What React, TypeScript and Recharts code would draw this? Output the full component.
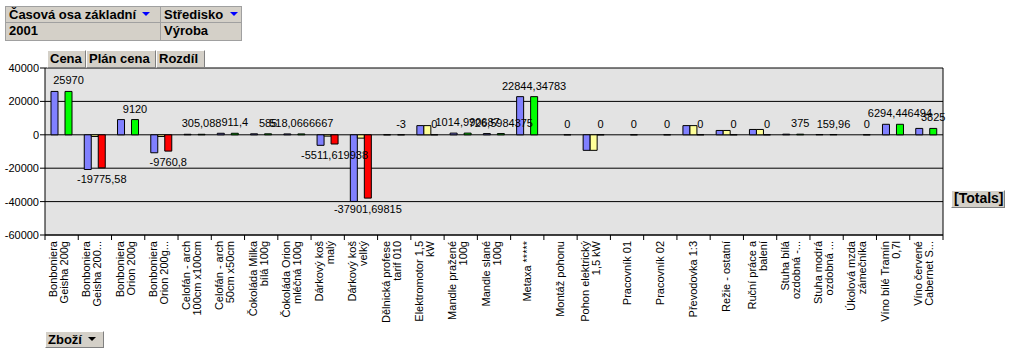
import React from 'react';
import { BarChart, Bar, XAxis, YAxis, CartesianGrid, Cell, LabelList } from 'recharts';

// category labels, already split into the two lines shown under the axis
const labelLine1 = [
  'Bonboniera', 'Bonboniera', 'Bonboniera', 'Bonboniera', 'Celofán - arch', 'Celofán - arch',
  'Čokoláda Milka', 'Čokoláda Orion', 'Dárkový koš', 'Dárkový koš', 'Dělnická profese',
  'Elektromotor 1,5', 'Mandle pražené', 'Mandle slané', 'Metaxa *****', 'Montáž pohonu',
  'Pohon elektrický', 'Pracovník 01', 'Pracovník 02', 'Převodovka 1:3', 'Režie - ostatní',
  'Ruční práce a', 'Stuha bílá', 'Stuha modrá', 'Úkolová mzda', 'Víno bílé Tramín', 'Víno červené',
];
const labelLine2 = [
  'Geisha 200g', 'Geisha 200...', 'Orion 200g', 'Orion 200g...', '100cm x100cm', '50cm x50cm',
  'bílá 100g', 'mléčná 100g', 'malý', 'velký', 'tarif 010',
  'kW', '100g', '100g', '', '',
  '1,5 kW', '', '', '', '',
  'balení', 'ozdobná -...', 'ozdobná ...', 'zámečníka', '0,7l', 'Cabernet S...',
];

const cena = [
  25970, -20775.58, 9120, -10760.8, 305.088, 911.4,
  585, 518.0666667, -6300, -39900, -3,
  5500, 1014.990687, 726.5984375, 22844.34783, 0,
  -9300, 0, 0, 5500, 2600,
  3200, 375, 159.96, 0, 6294.446494, 3825,
];
const planCena = [
  0, -1000, 0, -1000, 0, 0,
  0, 0, -800, -2000, 0,
  5500, 0, 0, 0, 0,
  -9300, 0, 0, 5500, 2600,
  3200, 0, 0, 0, 0, 0,
];
const rozdil = [
  25970, -19775.58, 9120, -9760.8, 305.088, 911.4,
  585, 518.0666667, -5511.619938, -37901.69815, -3,
  0, 1014.990687, 726.5984375, 22844.34783, 0,
  0, 0, 0, 0, 0,
  0, 375, 159.96, 0, 6294.446494, 3825,
];

const yTicks = [-60000, -40000, -20000, 0, 20000, 40000];

const data = labelLine1.map((l1, i) => ({
  name: `${l1} ${labelLine2[i]}`.trim(),
  cena: cena[i],
  plan: planCena[i],
  rozdil: rozdil[i],
}));

const W = 1010;
const H = 353;
const Y_AXIS_W = 45;
const RIGHT_W = 67;
const BAND = (W - Y_AXIS_W - RIGHT_W) / data.length;
const FONT = 'Arial, "Liberation Sans", sans-serif';

const fmt = (v: number) => String(v).replace('.', ',');

const CategoryTick = (props: any) => {
  const { x, y, index } = props;
  const l1 = labelLine1[index];
  const l2 = labelLine2[index];
  const top = y + 6;
  const textProps = { fontSize: 11, fontFamily: FONT, fill: '#000', textAnchor: 'end' as const };
  return (
    <g>
      <line x1={x - BAND / 2} y1={y} x2={x - BAND / 2} y2={y + 5} stroke="#000" />
      {index === data.length - 1 && (
        <line x1={x + BAND / 2} y1={y} x2={x + BAND / 2} y2={y + 5} stroke="#000" />
      )}
      {l2 ? (
        <>
          <text {...textProps} transform={`translate(${x - 4.5},${top}) rotate(-90)`}>{l1}</text>
          <text {...textProps} transform={`translate(${x + 6.5},${top}) rotate(-90)`}>{l2}</text>
        </>
      ) : (
        <text {...textProps} transform={`translate(${x + 3.5},${top}) rotate(-90)`}>{l1}</text>
      )}
    </g>
  );
};

const DiffLabel = (props: any) => {
  const { x, y, width, height, value } = props;
  const top = Math.min(y, y + height);
  const bottom = Math.max(y, y + height);
  const below = value < 0 && Math.abs(height) >= 2;
  return (
    <text
      x={x + width / 2}
      y={below ? bottom + 11 : top - 11}
      textAnchor="middle"
      dominantBaseline="central"
      fontSize={11}
      fontFamily={FONT}
      fill="#000"
    >
      {fmt(value)}
    </text>
  );
};

const cell: React.CSSProperties = {
  position: 'absolute',
  background: '#D4D0C8',
  border: '1px solid #A0A0A0',
  boxSizing: 'border-box',
  font: `bold 13px ${FONT}`,
  color: '#000',
  lineHeight: '15px',
  paddingLeft: 3,
  whiteSpace: 'nowrap',
};

const button: React.CSSProperties = {
  ...cell,
  border: '1px solid #808080',
  borderTopColor: '#FFFFFF',
  borderLeftColor: '#FFFFFF',
  paddingLeft: 2,
};

const Arrow = ({ color, left, top }: { color: string; left: number; top: number }) => (
  <span
    style={{
      position: 'absolute',
      left,
      top,
      width: 0,
      height: 0,
      borderLeft: '4px solid transparent',
      borderRight: '4px solid transparent',
      borderTop: `4px solid ${color}`,
    }}
  />
);

export default function App() {
  return (
    <div style={{ position: 'absolute', left: 0, top: 0, width: W, height: H, background: '#fff' }}>
      <BarChart
        width={W}
        height={H}
        data={data}
        margin={{ top: 68, right: 0, bottom: 18, left: 0 }}
        barCategoryGap={6}
        barGap={0}
      >
        <CartesianGrid vertical={false} stroke="#000" fill="#E3E3E3" fillOpacity={1} />
        <XAxis
          dataKey="name"
          interval={0}
          height={100}
          tickLine={false}
          tickSize={0}
          tickMargin={0}
          axisLine={{ stroke: '#000' }}
          tick={<CategoryTick />}
        />
        <YAxis
          width={Y_AXIS_W}
          domain={[-60000, 40000]}
          ticks={yTicks}
          interval={0}
          tickSize={5}
          tickMargin={1}
          axisLine={{ stroke: '#000' }}
          tickLine={{ stroke: '#000' }}
          tick={{ fontSize: 11, fontFamily: FONT, fill: '#000' }}
        />
        <YAxis
          yAxisId="frame"
          orientation="right"
          width={RIGHT_W}
          tick={false}
          tickLine={false}
          axisLine={{ stroke: '#000' }}
        />
        <Bar dataKey="cena" fill="#8080FF" stroke="#000" strokeWidth={1} isAnimationActive={false} />
        <Bar dataKey="plan" fill="#FFFF99" stroke="#000" strokeWidth={1} isAnimationActive={false} />
        <Bar
          dataKey="rozdil"
          stroke="#000"
          strokeWidth={1}
          minPointSize={0.01}
          isAnimationActive={false}
        >
          {data.map((d, i) => (
            <Cell key={i} fill={d.rozdil < 0 ? '#FF0000' : '#00FF00'} />
          ))}
          <LabelList dataKey="rozdil" content={<DiffLabel />} />
        </Bar>
      </BarChart>

      <div style={{ ...cell, left: 5, top: 6, width: 156, height: 17 }}>
        Časová osa základní
        <Arrow color="#0000FF" left={136} top={5} />
      </div>
      <div style={{ ...cell, left: 160, top: 6, width: 82, height: 17 }}>
        Středisko
        <Arrow color="#0000FF" left={69} top={5} />
      </div>
      <div style={{ ...cell, left: 5, top: 22, width: 156, height: 19 }}>2001</div>
      <div style={{ ...cell, left: 160, top: 22, width: 82, height: 19 }}>Výroba</div>

      <div style={{ ...button, left: 47, top: 50, width: 39, height: 18 }}>Cena</div>
      <div style={{ ...button, left: 86, top: 50, width: 70, height: 18 }}>Plán cena</div>
      <div style={{ ...button, left: 156, top: 50, width: 49, height: 18 }}>Rozdíl</div>

      <div style={{ ...button, left: 951, top: 190, width: 54, height: 18, fontSize: 14 }}>[Totals]</div>

      <div style={{ ...button, left: 45, top: 331, width: 59, height: 17 }}>
        Zboží
        <Arrow color="#000" left={42} top={5} />
      </div>
    </div>
  );
}
